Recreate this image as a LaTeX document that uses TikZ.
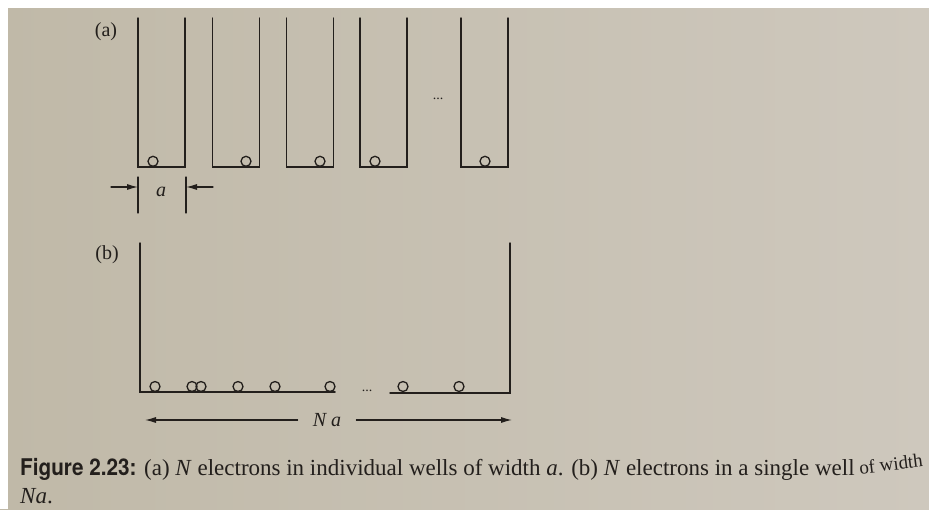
\documentclass[tikz,border=0pt]{standalone}
\usepackage{fontspec}
\setmainfont{Liberation Serif}
\newfontfamily\capsans[FakeStretch=0.9]{TeX Gyre Heros}
\usetikzlibrary{arrows.meta}

\definecolor{pageL}{RGB}{192,185,168}
\definecolor{pageR}{RGB}{206,200,189}
\definecolor{ink}{RGB}{35,31,28}

\tikzset{
  wall/.style={line width=1.5pt, ink},
  elec/.style={line width=1.3pt, ink},
  dim/.style={line width=1.1pt, ink, -{Latex[length=11pt,width=6pt]}},
  lbl/.style={ink, font=\fontsize{20}{24}\selectfont},
  captext/.style={ink, anchor=base west, inner sep=0pt, font=\fontsize{23}{27}\selectfont},
}

\begin{document}
\begin{tikzpicture}[x=1pt, y=-1pt, line cap=round]
  \useasboundingbox (0,0) rectangle (929,509);
  % paper, with the white edges of the scan
  \shade[left color=pageL, right color=pageR] (0,0) rectangle (929,509);
  \fill[white] (0,0) rectangle (929,8);
  \fill[white] (0,0) rectangle (8,509);
  % (a) N separate wells, one electron each
  \node[lbl] (la) at (106,32) {(a)};
  \foreach \xl/\xc in {138/153, 212.5/246, 286.5/320, 360/375, 461/485} {
    \draw[wall] (\xl,18) -- (\xl,167) -- (\xl+47,167) -- (\xl+47,18);
    \draw[elec] (\xc,161.3) circle[radius=5pt];
  }
  \node[ink, anchor=base, font=\fontsize{14}{16}\selectfont] (dotsa) at (438,99) {...};
  % width of one well
  \coordinate (tL) at (138,177);
  \coordinate (tR) at (186,177);
  \draw[wall, line width=1.2pt] (tL) -- ++(0,36);
  \draw[wall, line width=1.2pt] (tR) -- ++(0,36);
  \coordinate (aL0) at (111,187);
  \coordinate (aL1) at (138,187);
  \coordinate (aR0) at (213,187);
  \coordinate (aR1) at (186,187);
  \draw[dim] (aL0) -- (aL1);
  \draw[dim] (aR0) -- (aR1);
  \node[lbl] (wa) at (161,192) {\textit{a}};
  % (b) one wide well holding all N electrons
  \node[lbl] (lb) at (107,255) {(b)};
  \draw[wall] (140,243) -- (140,392) -- (335,392);
  \draw[wall] (390,393) -- (510,393) -- (510,243);
  \foreach \xc in {155,192,201,238,275,330,403,459}
    \draw[elec] (\xc,386.5) circle[radius=5pt];
  \node[ink, anchor=base, font=\fontsize{14}{16}\selectfont] (dotsb) at (367,391) {...};
  % total width
  \node[lbl, inner xsep=15pt] (Na) at (327,420) {\textit{N a}};
  \coordinate (NaL) at (145,420);
  \coordinate (NaR) at (512,420);
  \draw[dim] (Na.west) -- (NaL);
  \draw[dim] (Na.east) -- (NaR);
  % caption (page curls up at the right)
  \node[captext] (cap1) at (20,475)
    {{\capsans\bfseries Figure 2.23:} (a) \textit{N} electrons in individual wells of width \textit{a}. (b) \textit{N} electrons in a single well};
  \node[captext, rotate=7, xshift=5pt, font=\fontsize{19}{23}\selectfont] (cap1b) at (cap1.base east) {of width};
  \node[captext] (cap2) at (20,503) {\textit{Na}.};
\end{tikzpicture}
\end{document}
